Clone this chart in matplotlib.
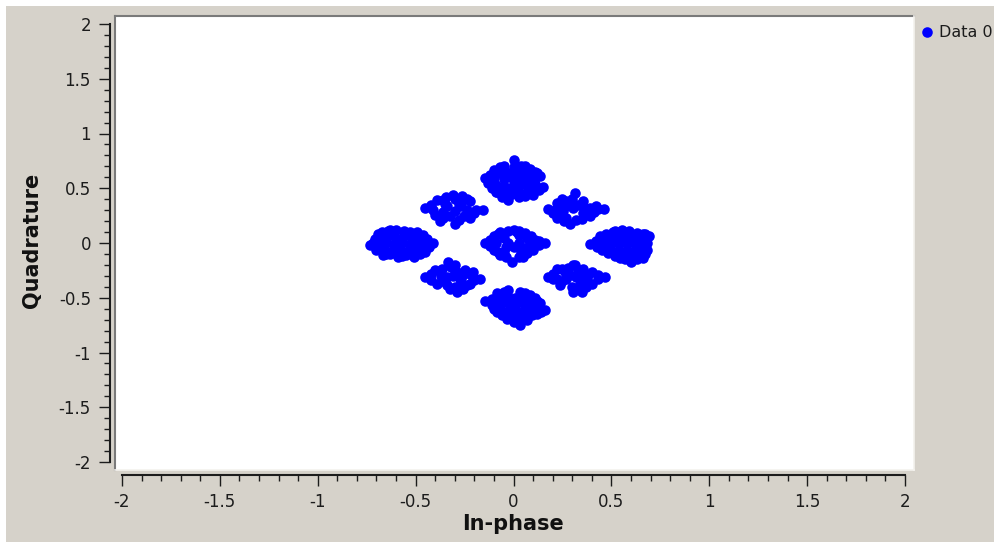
import matplotlib
matplotlib.use('Agg')
import matplotlib.pyplot as plt
from matplotlib.ticker import MultipleLocator, FuncFormatter
from matplotlib.lines import Line2D
from matplotlib.patches import Rectangle

plt.rcParams['font.family'] = ['DejaVu Sans']
plt.rcParams['axes.unicode_minus'] = False

# ---------------- data (In-phase / Quadrature samples, per cluster) ----------------
top_i = [-0.145, -0.10, -0.05, 0.0, 0.085, 0.135, 0.15, 0.10, 0.03, -0.027, -0.085, -0.13, 0.04, 0.0,
         -0.09, -0.05, -0.01, 0.03, 0.07, 0.11, -0.09, -0.05, -0.01, 0.03, 0.07, 0.11,
         -0.10, -0.05, -0.01, 0.03, 0.07, 0.11, -0.08, -0.04, 0.0, 0.04, 0.08, 0.11,
         -0.12, -0.07, 0.06, 0.12, 0.13, 0.06, -0.06, -0.11, 0.02, -0.03]
top_q = [0.59, 0.67, 0.70, 0.755, 0.68, 0.61, 0.51, 0.44, 0.42, 0.39, 0.47, 0.545, 0.70, 0.69,
         0.47, 0.46, 0.45, 0.47, 0.46, 0.48, 0.53, 0.52, 0.51, 0.53, 0.52, 0.54,
         0.59, 0.58, 0.59, 0.57, 0.58, 0.59, 0.64, 0.65, 0.63, 0.64, 0.63, 0.65,
         0.62, 0.69, 0.70, 0.64, 0.48, 0.43, 0.42, 0.50, 0.45, 0.48]

bot_i = [-0.145, -0.085, -0.027, 0.033, 0.084, 0.135, 0.16, 0.093, 0.033, -0.035, -0.085, -0.11,
         -0.07, -0.03, 0.01, 0.05, 0.09, 0.12, -0.07, -0.03, 0.01, 0.05, 0.09, 0.13,
         -0.06, -0.02, 0.02, 0.06, 0.10, -0.03, 0.01, 0.05, 0.03,
         -0.11, -0.05, 0.06, 0.11, 0.14, 0.07, 0.0, -0.06, -0.10, 0.12]
bot_q = [-0.53, -0.46, -0.43, -0.445, -0.475, -0.55, -0.61, -0.66, -0.75, -0.69, -0.63, -0.57,
         -0.50, -0.49, -0.50, -0.49, -0.51, -0.53, -0.56, -0.55, -0.56, -0.55, -0.57, -0.59,
         -0.62, -0.61, -0.62, -0.61, -0.62, -0.67, -0.68, -0.67, -0.71,
         -0.51, -0.45, -0.46, -0.50, -0.63, -0.70, -0.72, -0.66, -0.60, -0.65]

left_i = [-0.733, -0.71, -0.63, -0.56, -0.495, -0.44, -0.41, -0.45, -0.51, -0.59, -0.665, -0.70, -0.67, -0.60, -0.53,
          -0.68, -0.64, -0.60, -0.56, -0.52, -0.48, -0.69, -0.65, -0.61, -0.57, -0.53, -0.49, -0.45,
          -0.66, -0.62, -0.58, -0.54, -0.50, -0.47, -0.63, -0.55,
          -0.72, -0.69, -0.64, -0.46, -0.43, -0.48, -0.57, -0.65, -0.69]
left_q = [-0.02, 0.04, 0.12, 0.11, 0.10, 0.04, 0.0, -0.08, -0.125, -0.125, -0.11, -0.064, 0.10, 0.12, 0.10,
          0.05, 0.06, 0.05, 0.06, 0.05, 0.04, -0.01, 0.0, -0.01, 0.0, -0.01, 0.0, -0.01,
          -0.06, -0.07, -0.06, -0.07, -0.06, -0.05, -0.10, -0.11,
          0.0, 0.08, 0.11, 0.07, -0.04, -0.10, -0.12, -0.10, -0.04]

right_i = [0.39, 0.44, 0.51, 0.555, 0.63, 0.69, 0.68, 0.66, 0.60, 0.545, 0.485, 0.425, 0.59, 0.67,
           0.47, 0.51, 0.55, 0.59, 0.63, 0.66, 0.46, 0.50, 0.54, 0.58, 0.62, 0.66,
           0.50, 0.54, 0.58, 0.62, 0.65, 0.56, 0.60, 0.64,
           0.42, 0.47, 0.52, 0.66, 0.68, 0.67, 0.63, 0.57, 0.52, 0.45]
right_q = [-0.01, 0.06, 0.10, 0.12, 0.094, 0.06, -0.064, -0.14, -0.17, -0.14, -0.094, -0.034, 0.11, 0.08,
           0.04, 0.05, 0.06, 0.05, 0.04, 0.03, -0.01, 0.0, -0.01, 0.0, -0.01, -0.01,
           -0.06, -0.07, -0.06, -0.07, -0.06, -0.12, -0.11, -0.11,
           0.02, 0.08, 0.11, 0.08, 0.0, -0.10, -0.15, -0.15, -0.12, -0.06]

ctr_i = [-0.145, -0.10, -0.07, 0.0, 0.06, 0.11, 0.16, 0.10, 0.05, -0.01, -0.07, -0.10, -0.03, 0.03, 0.13, -0.12,
         -0.05, 0.03, -0.03, 0.03, 0.0, -0.05, 0.04, -0.09, 0.08, 0.07,
         -0.12, -0.08, 0.02, 0.09, 0.13, 0.07, 0.03, -0.04, -0.08, -0.11, -0.04, 0.06, 0.10]
ctr_q = [0.0, 0.06, 0.10, 0.12, 0.09, 0.03, 0.0, -0.064, -0.125, -0.17, -0.11, -0.064, 0.11, 0.11, -0.02, -0.03,
         0.05, 0.07, 0.0, 0.0, -0.04, -0.08, -0.08, 0.0, -0.03, 0.05,
         0.03, 0.08, 0.10, 0.06, 0.02, -0.09, -0.13, -0.13, -0.08, -0.03, -0.04, -0.05, -0.04]

ul_i = [-0.45, -0.39, -0.31, -0.265, -0.22, -0.155, -0.22, -0.30, -0.375, -0.40, -0.34, -0.27,
        -0.19, -0.325, -0.255, -0.36, -0.41, -0.28,
        -0.42, -0.35, -0.30, -0.24, -0.24, -0.30, -0.36, -0.36, -0.28, -0.20, -0.345]
ul_q = [0.32, 0.395, 0.44, 0.425, 0.38, 0.305, 0.23, 0.17, 0.20, 0.26, 0.335, 0.335,
        0.305, 0.245, 0.245, 0.395, 0.30, 0.36,
        0.35, 0.36, 0.40, 0.40, 0.30, 0.29, 0.28, 0.23, 0.21, 0.27, 0.42]

ur_i = [0.314, 0.178, 0.22, 0.27, 0.357, 0.39, 0.46, 0.39, 0.32, 0.29, 0.22, 0.255, 0.305,
        0.357, 0.27, 0.43, 0.21,
        0.25, 0.30, 0.33, 0.24, 0.27, 0.41, 0.35, 0.26, 0.20, 0.42, 0.37]
ur_q = [0.457, 0.31, 0.365, 0.38, 0.38, 0.32, 0.31, 0.245, 0.21, 0.17, 0.23, 0.29, 0.32,
        0.27, 0.23, 0.31, 0.30,
        0.40, 0.40, 0.35, 0.33, 0.34, 0.28, 0.22, 0.20, 0.27, 0.34, 0.31]

ll_i = [-0.45, -0.40, -0.367, -0.333, -0.30, -0.248, -0.205, -0.17, -0.222, -0.29, -0.34, -0.39,
        -0.34, -0.273, -0.29, -0.24, -0.325,
        -0.42, -0.42, -0.37, -0.31, -0.26, -0.21, -0.20, -0.27, -0.30, -0.36, -0.32, -0.26]
ll_q = [-0.31, -0.25, -0.235, -0.174, -0.204, -0.25, -0.265, -0.326, -0.37, -0.45, -0.386, -0.37,
        -0.31, -0.326, -0.265, -0.386, -0.417,
        -0.28, -0.34, -0.30, -0.30, -0.29, -0.30, -0.34, -0.36, -0.40, -0.35, -0.22, -0.42]

lr_i = [0.178, 0.22, 0.305, 0.357, 0.40, 0.467, 0.40, 0.34, 0.305, 0.238, 0.27, 0.32, 0.374,
        0.263, 0.34, 0.22, 0.314, 0.35,
        0.20, 0.25, 0.28, 0.33, 0.38, 0.43, 0.43, 0.37, 0.30, 0.25, 0.20, 0.29, 0.35]
lr_q = [-0.31, -0.235, -0.204, -0.235, -0.265, -0.31, -0.37, -0.43, -0.45, -0.386, -0.326, -0.31, -0.34,
        -0.265, -0.37, -0.326, -0.20, -0.45,
        -0.28, -0.24, -0.23, -0.25, -0.29, -0.29, -0.33, -0.40, -0.40, -0.35, -0.33, -0.29, -0.29]

in_phase = top_i + bot_i + left_i + right_i + ctr_i + ul_i + ur_i + ll_i + lr_i
quadrature = top_q + bot_q + left_q + right_q + ctr_q + ul_q + ur_q + ll_q + lr_q

series_label = 'Data 0'
x_label = 'In-phase'
y_label = 'Quadrature'

# ---------------- layout ----------------
W, H = 994, 542
fig = plt.figure(figsize=(W / 100, H / 100), dpi=100)
BG = '#d6d2ca'
fig.patch.set_facecolor(BG)


def fx(px):
    return px / W


def fy(py):
    return 1 - py / H


fig.add_artist(Rectangle((0, 0), fx(6), 1, transform=fig.transFigure,
                         facecolor='white', edgecolor='none', zorder=-5))
fig.add_artist(Rectangle((0, fy(6)), 1, 1 - fy(6), transform=fig.transFigure,
                         facecolor='white', edgecolor='none', zorder=-5))

# pixel mapping of data range
XP0, XP1 = 122.0, 905.0   # x = -2, 2
YP0, YP1 = 462.0, 24.0    # y = -2, 2
sx = (XP1 - XP0) / 4.0
sy = (YP0 - YP1) / 4.0
CL, CR, CT, CB = 116, 914, 17, 470
xlim = (-2 - (XP0 - CL) / sx, 2 + (CR - XP1) / sx)
ylim = (-2 - (CB - YP0) / sy, 2 + (YP1 - CT) / sy)

ax = fig.add_axes([fx(CL), fy(CB), fx(CR) - fx(CL), fy(CT) - fy(CB)])
ax.set_facecolor('white')
ax.set_xlim(*xlim)
ax.set_ylim(*ylim)
ax.set_xticks([])
ax.set_yticks([])
for s in ax.spines.values():
    s.set_visible(False)

ax.plot(in_phase, quadrature, linestyle='none', marker='o', ms=7.6,
        color='#0000ff', mec='#0000ff', mew=0, label=series_label)

# sunken frame
fig.add_artist(Line2D([fx(CL - 1), fx(CL - 1)], [fy(CB), fy(CT - 1)], color='#7a7a7a', lw=1.5))
fig.add_artist(Line2D([fx(CL - 1), fx(CR)], [fy(CT - 1), fy(CT - 1)], color='#7a7a7a', lw=1.5))
fig.add_artist(Line2D([fx(CL - 1), fx(CR)], [fy(CB), fy(CB)], color='#f4f2ee', lw=1.2))
fig.add_artist(Line2D([fx(CR), fx(CR)], [fy(CB), fy(CT - 1)], color='#f4f2ee', lw=1.2))

fmt = FuncFormatter(lambda v, p: ('%g' % round(v, 2)))
TC = '#1c1c1c'

# y scale
ay = fig.add_axes([fx(110), fy(CB), 0.002, fy(CT) - fy(CB)])
ay.set_ylim(*ylim)
ay.patch.set_visible(False)
ay.set_xticks([])
for k in ('right', 'top', 'bottom'):
    ay.spines[k].set_visible(False)
ay.spines['left'].set_bounds(-2, 2)
ay.spines['left'].set_linewidth(1.5)
ay.spines['left'].set_color(TC)
ay.yaxis.set_major_locator(MultipleLocator(0.5))
ay.yaxis.set_minor_locator(MultipleLocator(0.1))
ay.yaxis.set_major_formatter(fmt)
ay.tick_params(axis='y', which='major', length=7.7, width=1.0, pad=6, labelsize=12,
               colors=TC, direction='out')
ay.tick_params(axis='y', which='minor', length=4.3, width=1.0, colors=TC, direction='out')

# x scale
axx = fig.add_axes([fx(CL), fy(475), fx(CR) - fx(CL), 0.002])
axx.set_xlim(*xlim)
axx.patch.set_visible(False)
axx.set_yticks([])
for k in ('left', 'right', 'top'):
    axx.spines[k].set_visible(False)
axx.spines['bottom'].set_bounds(-2, 2)
axx.spines['bottom'].set_linewidth(1.5)
axx.spines['bottom'].set_color(TC)
axx.xaxis.set_major_locator(MultipleLocator(0.5))
axx.xaxis.set_minor_locator(MultipleLocator(0.1))
axx.xaxis.set_major_formatter(fmt)
axx.tick_params(axis='x', which='major', length=7.7, width=1.0, pad=5, labelsize=12,
                colors=TC, direction='out')
axx.tick_params(axis='x', which='minor', length=4.3, width=1.0, colors=TC, direction='out')

# axis titles
fig.text(fx(512.5), fy(530), x_label, ha='center', va='baseline', fontsize=15,
         fontweight='bold', color='#111111')
fig.text(fx(32.5), fy(240), y_label, ha='center', va='center', rotation=90, fontsize=15,
         fontweight='bold', color='#111111')

# legend
ax.legend(loc='center left', bbox_to_anchor=(fx(921), fy(32.7)), bbox_transform=fig.transFigure,
          frameon=False, fontsize=11.5, handlelength=0.8, handletextpad=0.3, borderpad=0,
          borderaxespad=0, labelcolor=TC)

fig.savefig('out.png', dpi=100, facecolor=BG)
